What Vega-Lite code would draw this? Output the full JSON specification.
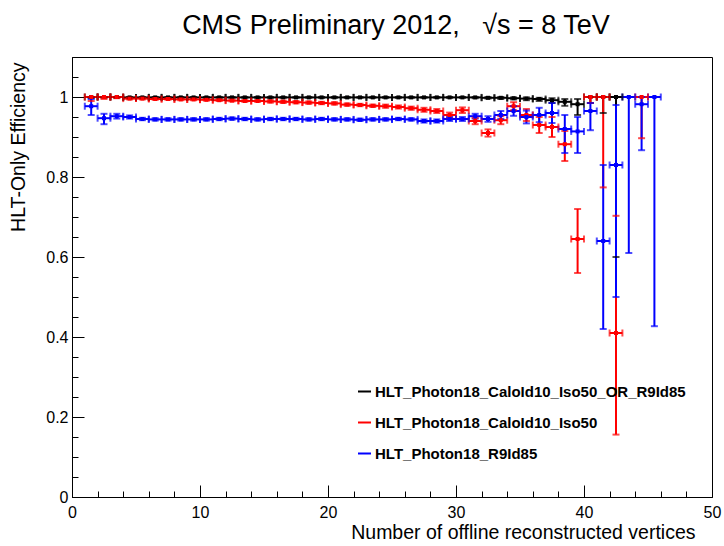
{
  "$schema": "https://vega.github.io/schema/vega-lite/v6.json",
  "width": 640,
  "height": 440,
  "autosize": "none",
  "padding": {"left": 72, "top": 57, "right": 12, "bottom": 49},
  "background": "white",
  "title": {"text": "CMS Preliminary 2012,\u00a0\u00a0\u00a0\u221as = 8 TeV", "font": "Liberation Sans", "fontSize": 27, "fontWeight": "normal", "color": "#000", "anchor": "middle", "baseline": "alphabetic", "offset": -4, "dx": 4},
  "config": {
    "view": {"stroke": "#000", "strokeWidth": 1},
    "axis": {"grid": false, "domainColor": "#000", "tickColor": "#000", "labelColor": "#000", "titleColor": "#000", "labelFont": "Liberation Sans", "titleFont": "Liberation Sans", "labelFontSize": 16, "titleFontSize": 19.5, "titleFontWeight": "normal", "labelOverlap": false, "labelFlush": false, "tickWidth": 1, "domainWidth": 1}
  },
  "resolve": {"axis": {"x": "independent", "y": "independent"}},
  "data": {"values": [
    {"s":"HLT_Photon18_CaloId10_Iso50_OR_R9Id85","x":1.5,"x0":1,"x1":2,"y":1,"y0":0.997,"y1":1},
    {"s":"HLT_Photon18_CaloId10_Iso50_OR_R9Id85","x":2.5,"x0":2,"x1":3,"y":1,"y0":0.998,"y1":1},
    {"s":"HLT_Photon18_CaloId10_Iso50_OR_R9Id85","x":3.5,"x0":3,"x1":4,"y":1,"y0":0.998,"y1":1},
    {"s":"HLT_Photon18_CaloId10_Iso50_OR_R9Id85","x":4.5,"x0":4,"x1":5,"y":0.999,"y0":0.998,"y1":1},
    {"s":"HLT_Photon18_CaloId10_Iso50_OR_R9Id85","x":5.5,"x0":5,"x1":6,"y":0.999,"y0":0.998,"y1":1},
    {"s":"HLT_Photon18_CaloId10_Iso50_OR_R9Id85","x":6.5,"x0":6,"x1":7,"y":0.999,"y0":0.998,"y1":1},
    {"s":"HLT_Photon18_CaloId10_Iso50_OR_R9Id85","x":7.5,"x0":7,"x1":8,"y":0.999,"y0":0.998,"y1":1},
    {"s":"HLT_Photon18_CaloId10_Iso50_OR_R9Id85","x":8.5,"x0":8,"x1":9,"y":0.999,"y0":0.998,"y1":1},
    {"s":"HLT_Photon18_CaloId10_Iso50_OR_R9Id85","x":9.5,"x0":9,"x1":10,"y":0.999,"y0":0.998,"y1":1},
    {"s":"HLT_Photon18_CaloId10_Iso50_OR_R9Id85","x":10.5,"x0":10,"x1":11,"y":0.999,"y0":0.998,"y1":1},
    {"s":"HLT_Photon18_CaloId10_Iso50_OR_R9Id85","x":11.5,"x0":11,"x1":12,"y":0.999,"y0":0.998,"y1":1},
    {"s":"HLT_Photon18_CaloId10_Iso50_OR_R9Id85","x":12.5,"x0":12,"x1":13,"y":0.999,"y0":0.998,"y1":1},
    {"s":"HLT_Photon18_CaloId10_Iso50_OR_R9Id85","x":13.5,"x0":13,"x1":14,"y":0.999,"y0":0.998,"y1":1},
    {"s":"HLT_Photon18_CaloId10_Iso50_OR_R9Id85","x":14.5,"x0":14,"x1":15,"y":0.999,"y0":0.998,"y1":1},
    {"s":"HLT_Photon18_CaloId10_Iso50_OR_R9Id85","x":15.5,"x0":15,"x1":16,"y":0.999,"y0":0.998,"y1":1},
    {"s":"HLT_Photon18_CaloId10_Iso50_OR_R9Id85","x":16.5,"x0":16,"x1":17,"y":0.999,"y0":0.998,"y1":1},
    {"s":"HLT_Photon18_CaloId10_Iso50_OR_R9Id85","x":17.5,"x0":17,"x1":18,"y":0.999,"y0":0.998,"y1":1},
    {"s":"HLT_Photon18_CaloId10_Iso50_OR_R9Id85","x":18.5,"x0":18,"x1":19,"y":0.999,"y0":0.998,"y1":1},
    {"s":"HLT_Photon18_CaloId10_Iso50_OR_R9Id85","x":19.5,"x0":19,"x1":20,"y":0.999,"y0":0.998,"y1":1},
    {"s":"HLT_Photon18_CaloId10_Iso50_OR_R9Id85","x":20.5,"x0":20,"x1":21,"y":0.999,"y0":0.998,"y1":1},
    {"s":"HLT_Photon18_CaloId10_Iso50_OR_R9Id85","x":21.5,"x0":21,"x1":22,"y":0.999,"y0":0.998,"y1":1},
    {"s":"HLT_Photon18_CaloId10_Iso50_OR_R9Id85","x":22.5,"x0":22,"x1":23,"y":0.999,"y0":0.998,"y1":1},
    {"s":"HLT_Photon18_CaloId10_Iso50_OR_R9Id85","x":23.5,"x0":23,"x1":24,"y":0.999,"y0":0.998,"y1":1},
    {"s":"HLT_Photon18_CaloId10_Iso50_OR_R9Id85","x":24.5,"x0":24,"x1":25,"y":0.999,"y0":0.998,"y1":1},
    {"s":"HLT_Photon18_CaloId10_Iso50_OR_R9Id85","x":25.5,"x0":25,"x1":26,"y":0.999,"y0":0.998,"y1":1},
    {"s":"HLT_Photon18_CaloId10_Iso50_OR_R9Id85","x":26.5,"x0":26,"x1":27,"y":0.999,"y0":0.998,"y1":1},
    {"s":"HLT_Photon18_CaloId10_Iso50_OR_R9Id85","x":27.5,"x0":27,"x1":28,"y":0.999,"y0":0.998,"y1":1},
    {"s":"HLT_Photon18_CaloId10_Iso50_OR_R9Id85","x":28.5,"x0":28,"x1":29,"y":0.999,"y0":0.998,"y1":1},
    {"s":"HLT_Photon18_CaloId10_Iso50_OR_R9Id85","x":29.5,"x0":29,"x1":30,"y":0.999,"y0":0.998,"y1":1},
    {"s":"HLT_Photon18_CaloId10_Iso50_OR_R9Id85","x":30.5,"x0":30,"x1":31,"y":0.999,"y0":0.998,"y1":1},
    {"s":"HLT_Photon18_CaloId10_Iso50_OR_R9Id85","x":31.5,"x0":31,"x1":32,"y":0.999,"y0":0.997,"y1":1},
    {"s":"HLT_Photon18_CaloId10_Iso50_OR_R9Id85","x":32.5,"x0":32,"x1":33,"y":0.998,"y0":0.996,"y1":1},
    {"s":"HLT_Photon18_CaloId10_Iso50_OR_R9Id85","x":33.5,"x0":33,"x1":34,"y":0.998,"y0":0.995,"y1":1},
    {"s":"HLT_Photon18_CaloId10_Iso50_OR_R9Id85","x":34.5,"x0":34,"x1":35,"y":0.997,"y0":0.994,"y1":0.999},
    {"s":"HLT_Photon18_CaloId10_Iso50_OR_R9Id85","x":35.5,"x0":35,"x1":36,"y":0.996,"y0":0.992,"y1":0.999},
    {"s":"HLT_Photon18_CaloId10_Iso50_OR_R9Id85","x":36.5,"x0":36,"x1":37,"y":0.995,"y0":0.99,"y1":0.998},
    {"s":"HLT_Photon18_CaloId10_Iso50_OR_R9Id85","x":37.5,"x0":37,"x1":38,"y":0.992,"y0":0.985,"y1":0.997},
    {"s":"HLT_Photon18_CaloId10_Iso50_OR_R9Id85","x":38.5,"x0":38,"x1":39,"y":0.988,"y0":0.978,"y1":0.995},
    {"s":"HLT_Photon18_CaloId10_Iso50_OR_R9Id85","x":39.5,"x0":39,"x1":40,"y":0.982,"y0":0.955,"y1":0.995},
    {"s":"HLT_Photon18_CaloId10_Iso50_OR_R9Id85","x":40.5,"x0":40,"x1":41,"y":1,"y0":0.985,"y1":1},
    {"s":"HLT_Photon18_CaloId10_Iso50_OR_R9Id85","x":41.5,"x0":41,"x1":42,"y":1,"y0":0.96,"y1":1},
    {"s":"HLT_Photon18_CaloId10_Iso50_OR_R9Id85","x":42.5,"x0":42,"x1":43,"y":1,"y0":0.6,"y1":1},
    {"s":"HLT_Photon18_CaloId10_Iso50","x":1.5,"x0":1,"x1":2,"y":1,"y0":0.99,"y1":1},
    {"s":"HLT_Photon18_CaloId10_Iso50","x":2.5,"x0":2,"x1":3,"y":1,"y0":0.995,"y1":1},
    {"s":"HLT_Photon18_CaloId10_Iso50","x":3.5,"x0":3,"x1":4,"y":1,"y0":0.997,"y1":1},
    {"s":"HLT_Photon18_CaloId10_Iso50","x":4.5,"x0":4,"x1":5,"y":0.996,"y0":0.994,"y1":0.998},
    {"s":"HLT_Photon18_CaloId10_Iso50","x":5.5,"x0":5,"x1":6,"y":0.996,"y0":0.994,"y1":0.998},
    {"s":"HLT_Photon18_CaloId10_Iso50","x":6.5,"x0":6,"x1":7,"y":0.995,"y0":0.993,"y1":0.997},
    {"s":"HLT_Photon18_CaloId10_Iso50","x":7.5,"x0":7,"x1":8,"y":0.995,"y0":0.993,"y1":0.997},
    {"s":"HLT_Photon18_CaloId10_Iso50","x":8.5,"x0":8,"x1":9,"y":0.994,"y0":0.992,"y1":0.996},
    {"s":"HLT_Photon18_CaloId10_Iso50","x":9.5,"x0":9,"x1":10,"y":0.994,"y0":0.992,"y1":0.996},
    {"s":"HLT_Photon18_CaloId10_Iso50","x":10.5,"x0":10,"x1":11,"y":0.993,"y0":0.991,"y1":0.995},
    {"s":"HLT_Photon18_CaloId10_Iso50","x":11.5,"x0":11,"x1":12,"y":0.992,"y0":0.99,"y1":0.994},
    {"s":"HLT_Photon18_CaloId10_Iso50","x":12.5,"x0":12,"x1":13,"y":0.991,"y0":0.989,"y1":0.993},
    {"s":"HLT_Photon18_CaloId10_Iso50","x":13.5,"x0":13,"x1":14,"y":0.99,"y0":0.988,"y1":0.992},
    {"s":"HLT_Photon18_CaloId10_Iso50","x":14.5,"x0":14,"x1":15,"y":0.99,"y0":0.988,"y1":0.992},
    {"s":"HLT_Photon18_CaloId10_Iso50","x":15.5,"x0":15,"x1":16,"y":0.989,"y0":0.986,"y1":0.992},
    {"s":"HLT_Photon18_CaloId10_Iso50","x":16.5,"x0":16,"x1":17,"y":0.988,"y0":0.985,"y1":0.991},
    {"s":"HLT_Photon18_CaloId10_Iso50","x":17.5,"x0":17,"x1":18,"y":0.987,"y0":0.984,"y1":0.99},
    {"s":"HLT_Photon18_CaloId10_Iso50","x":18.5,"x0":18,"x1":19,"y":0.986,"y0":0.983,"y1":0.989},
    {"s":"HLT_Photon18_CaloId10_Iso50","x":19.5,"x0":19,"x1":20,"y":0.985,"y0":0.982,"y1":0.988},
    {"s":"HLT_Photon18_CaloId10_Iso50","x":20.5,"x0":20,"x1":21,"y":0.984,"y0":0.981,"y1":0.987},
    {"s":"HLT_Photon18_CaloId10_Iso50","x":21.5,"x0":21,"x1":22,"y":0.981,"y0":0.978,"y1":0.984},
    {"s":"HLT_Photon18_CaloId10_Iso50","x":22.5,"x0":22,"x1":23,"y":0.98,"y0":0.977,"y1":0.983},
    {"s":"HLT_Photon18_CaloId10_Iso50","x":23.5,"x0":23,"x1":24,"y":0.978,"y0":0.975,"y1":0.981},
    {"s":"HLT_Photon18_CaloId10_Iso50","x":24.5,"x0":24,"x1":25,"y":0.977,"y0":0.973,"y1":0.981},
    {"s":"HLT_Photon18_CaloId10_Iso50","x":25.5,"x0":25,"x1":26,"y":0.975,"y0":0.971,"y1":0.979},
    {"s":"HLT_Photon18_CaloId10_Iso50","x":26.5,"x0":26,"x1":27,"y":0.972,"y0":0.968,"y1":0.976},
    {"s":"HLT_Photon18_CaloId10_Iso50","x":27.5,"x0":27,"x1":28,"y":0.968,"y0":0.963,"y1":0.973},
    {"s":"HLT_Photon18_CaloId10_Iso50","x":28.5,"x0":28,"x1":29,"y":0.965,"y0":0.96,"y1":0.97},
    {"s":"HLT_Photon18_CaloId10_Iso50","x":29.5,"x0":29,"x1":30,"y":0.955,"y0":0.949,"y1":0.961},
    {"s":"HLT_Photon18_CaloId10_Iso50","x":30.5,"x0":30,"x1":31,"y":0.967,"y0":0.96,"y1":0.974},
    {"s":"HLT_Photon18_CaloId10_Iso50","x":31.5,"x0":31,"x1":32,"y":0.94,"y0":0.932,"y1":0.948},
    {"s":"HLT_Photon18_CaloId10_Iso50","x":32.5,"x0":32,"x1":33,"y":0.91,"y0":0.901,"y1":0.919},
    {"s":"HLT_Photon18_CaloId10_Iso50","x":33.5,"x0":33,"x1":34,"y":0.942,"y0":0.932,"y1":0.952},
    {"s":"HLT_Photon18_CaloId10_Iso50","x":34.5,"x0":34,"x1":35,"y":0.977,"y0":0.967,"y1":0.987},
    {"s":"HLT_Photon18_CaloId10_Iso50","x":35.5,"x0":35,"x1":36,"y":0.955,"y0":0.94,"y1":0.97},
    {"s":"HLT_Photon18_CaloId10_Iso50","x":36.5,"x0":36,"x1":37,"y":0.93,"y0":0.91,"y1":0.95},
    {"s":"HLT_Photon18_CaloId10_Iso50","x":37.5,"x0":37,"x1":38,"y":0.925,"y0":0.9,"y1":0.95},
    {"s":"HLT_Photon18_CaloId10_Iso50","x":38.5,"x0":38,"x1":39,"y":0.882,"y0":0.84,"y1":0.915},
    {"s":"HLT_Photon18_CaloId10_Iso50","x":39.5,"x0":39,"x1":40,"y":0.645,"y0":0.56,"y1":0.72},
    {"s":"HLT_Photon18_CaloId10_Iso50","x":40.5,"x0":40,"x1":41,"y":1,"y0":0.985,"y1":1},
    {"s":"HLT_Photon18_CaloId10_Iso50","x":41.5,"x0":41,"x1":42,"y":1,"y0":0.774,"y1":1},
    {"s":"HLT_Photon18_CaloId10_Iso50","x":42.5,"x0":42,"x1":43,"y":0.41,"y0":0.156,"y1":0.703},
    {"s":"HLT_Photon18_CaloId10_Iso50","x":44.5,"x0":44,"x1":45,"y":1,"y0":0.897,"y1":1},
    {"s":"HLT_Photon18_R9Id85","x":1.5,"x0":1,"x1":2,"y":0.977,"y0":0.955,"y1":0.995},
    {"s":"HLT_Photon18_R9Id85","x":2.5,"x0":2,"x1":3,"y":0.947,"y0":0.932,"y1":0.958},
    {"s":"HLT_Photon18_R9Id85","x":3.5,"x0":3,"x1":4,"y":0.952,"y0":0.946,"y1":0.958},
    {"s":"HLT_Photon18_R9Id85","x":4.5,"x0":4,"x1":5,"y":0.95,"y0":0.946,"y1":0.954},
    {"s":"HLT_Photon18_R9Id85","x":5.5,"x0":5,"x1":6,"y":0.945,"y0":0.942,"y1":0.948},
    {"s":"HLT_Photon18_R9Id85","x":6.5,"x0":6,"x1":7,"y":0.944,"y0":0.941,"y1":0.947},
    {"s":"HLT_Photon18_R9Id85","x":7.5,"x0":7,"x1":8,"y":0.944,"y0":0.941,"y1":0.947},
    {"s":"HLT_Photon18_R9Id85","x":8.5,"x0":8,"x1":9,"y":0.944,"y0":0.941,"y1":0.947},
    {"s":"HLT_Photon18_R9Id85","x":9.5,"x0":9,"x1":10,"y":0.944,"y0":0.941,"y1":0.947},
    {"s":"HLT_Photon18_R9Id85","x":10.5,"x0":10,"x1":11,"y":0.944,"y0":0.941,"y1":0.947},
    {"s":"HLT_Photon18_R9Id85","x":11.5,"x0":11,"x1":12,"y":0.945,"y0":0.942,"y1":0.948},
    {"s":"HLT_Photon18_R9Id85","x":12.5,"x0":12,"x1":13,"y":0.946,"y0":0.943,"y1":0.949},
    {"s":"HLT_Photon18_R9Id85","x":13.5,"x0":13,"x1":14,"y":0.945,"y0":0.942,"y1":0.948},
    {"s":"HLT_Photon18_R9Id85","x":14.5,"x0":14,"x1":15,"y":0.944,"y0":0.941,"y1":0.947},
    {"s":"HLT_Photon18_R9Id85","x":15.5,"x0":15,"x1":16,"y":0.945,"y0":0.942,"y1":0.948},
    {"s":"HLT_Photon18_R9Id85","x":16.5,"x0":16,"x1":17,"y":0.945,"y0":0.942,"y1":0.948},
    {"s":"HLT_Photon18_R9Id85","x":17.5,"x0":17,"x1":18,"y":0.945,"y0":0.942,"y1":0.948},
    {"s":"HLT_Photon18_R9Id85","x":18.5,"x0":18,"x1":19,"y":0.944,"y0":0.941,"y1":0.947},
    {"s":"HLT_Photon18_R9Id85","x":19.5,"x0":19,"x1":20,"y":0.945,"y0":0.942,"y1":0.948},
    {"s":"HLT_Photon18_R9Id85","x":20.5,"x0":20,"x1":21,"y":0.944,"y0":0.941,"y1":0.947},
    {"s":"HLT_Photon18_R9Id85","x":21.5,"x0":21,"x1":22,"y":0.944,"y0":0.941,"y1":0.947},
    {"s":"HLT_Photon18_R9Id85","x":22.5,"x0":22,"x1":23,"y":0.943,"y0":0.94,"y1":0.946},
    {"s":"HLT_Photon18_R9Id85","x":23.5,"x0":23,"x1":24,"y":0.944,"y0":0.941,"y1":0.947},
    {"s":"HLT_Photon18_R9Id85","x":24.5,"x0":24,"x1":25,"y":0.944,"y0":0.941,"y1":0.947},
    {"s":"HLT_Photon18_R9Id85","x":25.5,"x0":25,"x1":26,"y":0.945,"y0":0.942,"y1":0.948},
    {"s":"HLT_Photon18_R9Id85","x":26.5,"x0":26,"x1":27,"y":0.944,"y0":0.941,"y1":0.947},
    {"s":"HLT_Photon18_R9Id85","x":27.5,"x0":27,"x1":28,"y":0.94,"y0":0.936,"y1":0.944},
    {"s":"HLT_Photon18_R9Id85","x":28.5,"x0":28,"x1":29,"y":0.94,"y0":0.936,"y1":0.944},
    {"s":"HLT_Photon18_R9Id85","x":29.5,"x0":29,"x1":30,"y":0.945,"y0":0.94,"y1":0.95},
    {"s":"HLT_Photon18_R9Id85","x":30.5,"x0":30,"x1":31,"y":0.945,"y0":0.94,"y1":0.95},
    {"s":"HLT_Photon18_R9Id85","x":31.5,"x0":31,"x1":32,"y":0.952,"y0":0.946,"y1":0.958},
    {"s":"HLT_Photon18_R9Id85","x":32.5,"x0":32,"x1":33,"y":0.945,"y0":0.938,"y1":0.952},
    {"s":"HLT_Photon18_R9Id85","x":33.5,"x0":33,"x1":34,"y":0.955,"y0":0.945,"y1":0.965},
    {"s":"HLT_Photon18_R9Id85","x":34.5,"x0":34,"x1":35,"y":0.965,"y0":0.953,"y1":0.977},
    {"s":"HLT_Photon18_R9Id85","x":35.5,"x0":35,"x1":36,"y":0.95,"y0":0.934,"y1":0.966},
    {"s":"HLT_Photon18_R9Id85","x":36.5,"x0":36,"x1":37,"y":0.955,"y0":0.937,"y1":0.973},
    {"s":"HLT_Photon18_R9Id85","x":37.5,"x0":37,"x1":38,"y":0.96,"y0":0.935,"y1":0.985},
    {"s":"HLT_Photon18_R9Id85","x":38.5,"x0":38,"x1":39,"y":0.92,"y0":0.86,"y1":0.955},
    {"s":"HLT_Photon18_R9Id85","x":39.5,"x0":39,"x1":40,"y":0.914,"y0":0.86,"y1":0.95},
    {"s":"HLT_Photon18_R9Id85","x":40.5,"x0":40,"x1":41,"y":0.965,"y0":0.917,"y1":0.985},
    {"s":"HLT_Photon18_R9Id85","x":41.5,"x0":41,"x1":42,"y":0.64,"y0":0.42,"y1":0.83},
    {"s":"HLT_Photon18_R9Id85","x":42.5,"x0":42,"x1":43,"y":0.83,"y0":0.5,"y1":0.98},
    {"s":"HLT_Photon18_R9Id85","x":43.5,"x0":43,"x1":44,"y":1,"y0":0.61,"y1":1},
    {"s":"HLT_Photon18_R9Id85","x":44.5,"x0":44,"x1":45,"y":0.982,"y0":0.867,"y1":1},
    {"s":"HLT_Photon18_R9Id85","x":45.5,"x0":45,"x1":46,"y":1,"y0":0.427,"y1":1}
  ]},
  "encoding": {
    "color": {"field": "s", "type": "nominal", "sort": null,
      "scale": {"domain": ["HLT_Photon18_CaloId10_Iso50_OR_R9Id85", "HLT_Photon18_CaloId10_Iso50", "HLT_Photon18_R9Id85"], "range": ["#000000", "#ff0000", "#0000ff"]},
      "legend": {"title": null, "orient": "none", "legendX": 285, "legendY": 327, "padding": 0, "symbolType": "stroke", "symbolStrokeWidth": 2, "symbolSize": 169, "symbolOpacity": 1, "labelFont": "Liberation Sans", "labelFontSize": 15, "labelFontWeight": "bold", "labelColor": "#000", "labelOffset": 3, "rowPadding": 15, "labelLimit": 500}}
  },
  "layer": [
    {
      "mark": {"type": "rule", "strokeWidth": 2},
      "encoding": {
        "x": {"field": "x", "type": "quantitative", "scale": {"domain": [0, 50], "nice": false, "zero": false},
          "title": "Number of offline reconstructed vertices",
          "axis": {"orient": "bottom", "values": [0,10,20,30,40,50], "format": "d", "tickSize": -12,
            "labelPadding": 19, "titleAnchor": "end", "titleAlign": "right", "titleX": 623, "titleY": 41, "titleBaseline": "alphabetic"}},
        "y": {"field": "y0", "type": "quantitative", "scale": {"domain": [0, 1.1], "nice": false, "zero": false},
          "title": "HLT-Only Efficiency",
          "axis": {"orient": "left", "values": [0,0.2,0.4,0.6,0.8,1], "format": "~g", "tickSize": -12,
            "labelPadding": 16, "titleAnchor": "end", "titleAngle": -90, "titleAlign": "right", "titleX": -54, "titleY": 5, "titleBaseline": "middle"}},
        "y2": {"field": "y1"}
      }
    },
    {
      "mark": {"type": "rule", "strokeWidth": 2},
      "encoding": {
        "x": {"field": "x0", "type": "quantitative", "scale": {"domain": [0, 50], "nice": false, "zero": false}, "axis": null},
        "x2": {"field": "x1"},
        "y": {"field": "y", "type": "quantitative", "scale": {"domain": [0, 1.1], "nice": false, "zero": false}, "axis": null}
      }
    },
    {
      "mark": {"type": "tick", "orient": "horizontal", "size": 7, "thickness": 2},
      "encoding": {
        "x": {"field": "x", "type": "quantitative", "scale": {"domain": [0, 50], "nice": false, "zero": false}, "axis": null},
        "y": {"field": "y0", "type": "quantitative", "scale": {"domain": [0, 1.1], "nice": false, "zero": false}, "axis": null}
      }
    },
    {
      "mark": {"type": "tick", "orient": "horizontal", "size": 7, "thickness": 2},
      "encoding": {
        "x": {"field": "x", "type": "quantitative", "scale": {"domain": [0, 50], "nice": false, "zero": false}, "axis": null},
        "y": {"field": "y1", "type": "quantitative", "scale": {"domain": [0, 1.1], "nice": false, "zero": false}, "axis": null}
      }
    },
    {
      "mark": {"type": "tick", "orient": "vertical", "size": 7, "thickness": 2},
      "encoding": {
        "x": {"field": "x0", "type": "quantitative", "scale": {"domain": [0, 50], "nice": false, "zero": false}, "axis": null},
        "y": {"field": "y", "type": "quantitative", "scale": {"domain": [0, 1.1], "nice": false, "zero": false}, "axis": null}
      }
    },
    {
      "mark": {"type": "tick", "orient": "vertical", "size": 7, "thickness": 2},
      "encoding": {
        "x": {"field": "x1", "type": "quantitative", "scale": {"domain": [0, 50], "nice": false, "zero": false}, "axis": null},
        "y": {"field": "y", "type": "quantitative", "scale": {"domain": [0, 1.1], "nice": false, "zero": false}, "axis": null}
      }
    },
    {
      "mark": {"type": "square", "size": 16, "filled": true, "opacity": 1},
      "encoding": {
        "x": {"field": "x", "type": "quantitative", "scale": {"domain": [0, 50], "nice": false, "zero": false}, "title": null,
          "axis": {"orient": "bottom", "values": [2,4,6,8,12,14,16,18,22,24,26,28,32,34,36,38,42,44,46,48], "tickSize": -6, "labels": false, "domain": false, "title": null}},
        "y": {"field": "y", "type": "quantitative", "scale": {"domain": [0, 1.1], "nice": false, "zero": false}, "title": null,
          "axis": {"orient": "left", "values": [0.05,0.1,0.15,0.25,0.3,0.35,0.45,0.5,0.55,0.65,0.7,0.75,0.85,0.9,0.95,1.05,1.1], "tickSize": -6, "labels": false, "domain": false, "title": null}}
      }
    }
  ]
}
